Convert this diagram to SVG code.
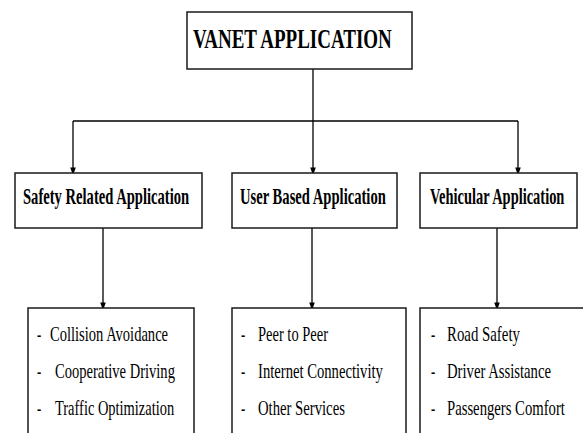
<svg xmlns="http://www.w3.org/2000/svg" width="583" height="433" viewBox="0 0 583 433">
<style>
.box{fill:#fff;stroke:#1a1a1a;stroke-width:1.5}
text{font-family:'Liberation Serif','Times New Roman','DejaVu Serif',serif;fill:#000}
.h{font-weight:bold}
.title{font-size:28px}
.mid{font-size:24px}
.item{font-size:21px}
.ln{fill:none;stroke:#000;stroke-width:1.3}
</style>
<defs>
<marker id="ah" markerWidth="8" markerHeight="12" refX="7" refY="3.5" orient="auto" markerUnits="userSpaceOnUse" viewBox="0 0 10 7">
<path d="M0,0 L10,3.5 L0,7 Z" fill="#000"/>
</marker>
</defs>
<rect width="583" height="433" fill="#fff"/>
<g id="connectors">
<path class="ln" d="M313,69 V173" marker-end="url(#ah)"/>
<path class="ln" d="M73,121 H518"/>
<path class="ln" d="M73,121 V173" marker-end="url(#ah)"/>
<path class="ln" d="M518,121 V173" marker-end="url(#ah)"/>
<path class="ln" d="M103,228 V308" marker-end="url(#ah)"/>
<path class="ln" d="M312,228 V308" marker-end="url(#ah)"/>
<path class="ln" d="M497,228 V308" marker-end="url(#ah)"/>
</g>
<g id="vanet">
<rect class="box" x="187" y="12" width="225" height="57"/>
<text class="h title" transform="translate(193,48) scale(0.678,1)">VANET APPLICATION</text>
</g>
<g id="safety">
<rect class="box" x="15" y="173" width="187" height="55"/>
<text class="h mid" transform="translate(23,204) scale(0.608,1)">Safety Related Application</text>
</g>
<g id="user">
<rect class="box" x="232" y="173" width="165" height="55"/>
<text class="h mid" transform="translate(240,204) scale(0.609,1)">User Based Application</text>
</g>
<g id="vehicular">
<rect class="box" x="420" y="173" width="157" height="55"/>
<text class="h mid" transform="translate(430,204) scale(0.602,1)">Vehicular Application</text>
</g>
<g id="safety-list">
<rect class="box" x="28" y="308" width="166" height="140"/>
<text class="item" transform="translate(37,341) scale(0.6,1)">-</text>
<text class="item" transform="translate(50,341) scale(0.693,1)">Collision Avoidance</text>
<text class="item" transform="translate(37,378) scale(0.6,1)">-</text>
<text class="item" transform="translate(55,378) scale(0.693,1)">Cooperative Driving</text>
<text class="item" transform="translate(37,415) scale(0.6,1)">-</text>
<text class="item" transform="translate(55,415) scale(0.688,1)">Traffic Optimization</text>
</g>
<g id="user-list">
<rect class="box" x="232" y="308" width="174" height="140"/>
<text class="item" transform="translate(241,341) scale(0.6,1)">-</text>
<text class="item" transform="translate(258,341) scale(0.69,1)">Peer to Peer</text>
<text class="item" transform="translate(241,378) scale(0.6,1)">-</text>
<text class="item" transform="translate(258,378) scale(0.698,1)">Internet Connectivity</text>
<text class="item" transform="translate(241,415) scale(0.6,1)">-</text>
<text class="item" transform="translate(258,415) scale(0.70,1)">Other Services</text>
</g>
<g id="vehicular-list">
<rect class="box" x="420" y="308" width="180" height="140"/>
<text class="item" transform="translate(431,341) scale(0.6,1)">-</text>
<text class="item" transform="translate(447,341) scale(0.707,1)">Road Safety</text>
<text class="item" transform="translate(431,378) scale(0.6,1)">-</text>
<text class="item" transform="translate(447,378) scale(0.70,1)">Driver Assistance</text>
<text class="item" transform="translate(431,415) scale(0.6,1)">-</text>
<text class="item" transform="translate(447,415) scale(0.70,1)">Passengers Comfort</text>
</g>
</svg>
